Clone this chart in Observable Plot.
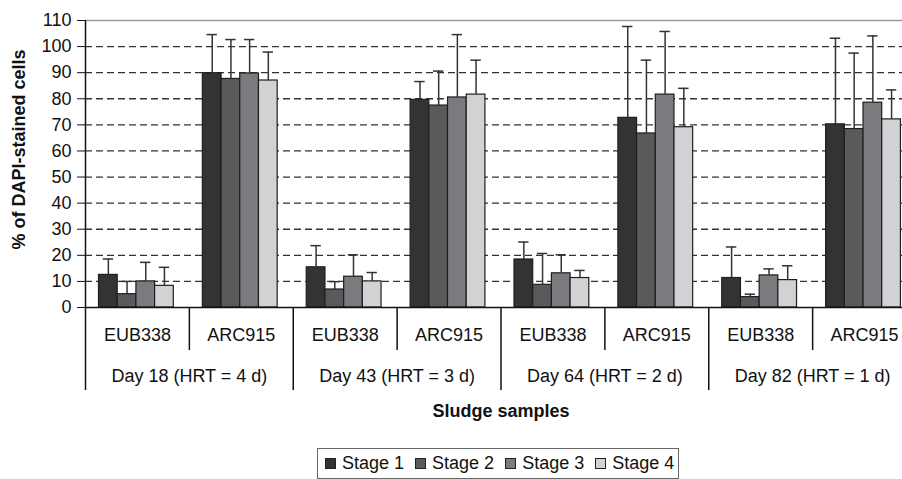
<!DOCTYPE html>
<html><head><meta charset="utf-8">
<script src="https://cdn.jsdelivr.net/npm/d3@7"></script>
<script src="https://cdn.jsdelivr.net/npm/@observablehq/plot@0.6"></script>
<style>
body{margin:0;background:#fff;font-family:'Liberation Sans',Arial,sans-serif}
#wrap{position:relative;width:902px;height:479px;overflow:hidden}
#legend{position:absolute;left:317px;top:448px;width:362px;height:31px;border:1.5px solid #666;box-sizing:border-box;display:flex;align-items:center;padding-left:7px;font-size:18px;color:#111;background:#fff}
.item{display:flex;align-items:center;margin-right:11px;white-space:nowrap}
.sw{width:11px;height:11px;border:1px solid #222;box-sizing:border-box;margin-right:6px}
</style></head><body><div id="wrap"><div id="legend"></div></div>
<script>
// ---- data ----
const days = ["Day 18 (HRT = 4 d)", "Day 43 (HRT = 3 d)", "Day 64 (HRT = 2 d)", "Day 82 (HRT = 1 d)"];
const probes = ["EUB338", "ARC915"];
const stages = ["Stage 1", "Stage 2", "Stage 3", "Stage 4"];
const yTicks = [0, 10, 20, 30, 40, 50, 60, 70, 80, 90, 100, 110];
// order: D18 EUB, D18 ARC, D43 EUB, D43 ARC, D64 EUB, D64 ARC, D82 EUB, D82 ARC
const stage1 = [12.5, 89.8, 15.4, 79.6, 18.4, 72.7, 11.3, 70.2];
const stage2 = [5.1, 87.6, 6.9, 77.4, 8.7, 66.7, 4.0, 68.4];
const stage3 = [10.0, 89.7, 11.8, 80.5, 13.1, 81.6, 12.3, 78.5];
const stage4 = [8.3, 87.0, 10.0, 81.6, 11.3, 69.1, 10.5, 72.1];
const err1 = [6.1, 14.8, 8.3, 7.0, 6.7, 35.0, 11.9, 33.0];
const err2 = [4.9, 15.1, 3.0, 13.2, 12.0, 28.1, 1.1, 29.1];
const err3 = [7.3, 13.0, 8.4, 24.1, 7.1, 24.2, 2.5, 25.6];
const err4 = [7.1, 10.9, 3.4, 13.2, 2.9, 14.9, 5.5, 11.3];

// ---- styles / layout ----
const colors = ["#333333", "#5a5a5c", "#7a7b7e", "#d1d2d4"];
const OFF = 0.13, BW = 0.18, CAP = 0.05;
const SHORT = -16.5, LONG = -31.8;

const values = [stage1, stage2, stage3, stage4];
const errs = [err1, err2, err3, err4];
const cats = d3.range(8).map(c => ({c, day: days[Math.floor(c / 2)], probe: probes[c % 2]}));
const data = [];
for (const {c, day, probe} of cats) {
  stages.forEach((stage, s) => {
    const x1 = c + OFF + BW * s;
    data.push({c, day, probe, stage, value: values[s][c], err: errs[s][c], x1, x2: x1 + BW, xc: x1 + BW / 2});
  });
}
const dayRows = days.map((day, d) => ({day, d}));
const bounds = d3.range(0, 9).map(b => ({b}));

const chart = Plot.plot({
  width: 902, height: 479,
  marginLeft: 85, marginRight: -14, marginTop: 20, marginBottom: 172,
  style: {fontFamily: "'Liberation Sans', Arial, sans-serif", fontSize: "18px", color: "#111", background: "#fff"},
  x: {domain: [0, 8], axis: null},
  y: {domain: [0, 110], ticks: yTicks, tickSize: 8, tickPadding: 6, label: null},
  color: {domain: stages, range: colors},
  marks: [
    Plot.ruleY(yTicks.filter(t => t > 0 && t < 110), {stroke: "#333", strokeWidth: 1.3, strokeDasharray: "7,4"}),
    Plot.ruleY([110], {stroke: "#999", strokeWidth: 1.5}),
    Plot.rect(data, {x1: "x1", x2: "x2", y1: 0, y2: "value", fill: "stage", stroke: "#1e1e1e", strokeWidth: 1.2}),
    Plot.ruleX(data, {x: "xc", y1: "value", y2: d => d.value + d.err, stroke: "#333", strokeWidth: 1.5}),
    Plot.ruleY(data, {y: d => d.value + d.err, x1: d => d.xc - CAP, x2: d => d.xc + CAP, stroke: "#333", strokeWidth: 1.5}),
    Plot.ruleY([0], {stroke: "#111", strokeWidth: 1.5}),
    Plot.ruleX(bounds, {x: "b", y1: d => d.b === 0 ? 110 : 0, y2: d => d.b % 2 === 0 ? LONG : SHORT, stroke: "#111", strokeWidth: 1.5}),
    Plot.text(cats, {x: d => d.c + 0.5, y: 0, dy: 28, text: "probe", fontSize: 18, fill: "#111"}),
    Plot.text(dayRows, {x: d => 2 * d.d + 1, y: 0, dy: 68.5, text: "day", fontSize: 18, fill: "#111"}),
    Plot.text(["Sludge samples"], {x: 4, y: 0, dy: 103.5, text: d => d, fontSize: 18, fontWeight: "bold", fill: "#111"}),
    Plot.text(["% of DAPI-stained cells"], {x: 0, y: 60.6, dx: -66.5, rotate: -90, text: d => d, fontSize: 18, fontWeight: "bold", fill: "#111"})
  ]
});
document.getElementById("wrap").prepend(chart);

const legend = document.getElementById("legend");
stages.forEach((s, i) => {
  const item = document.createElement("div");
  item.className = "item";
  const sw = document.createElement("span");
  sw.className = "sw";
  sw.style.background = colors[i];
  const t = document.createElement("span");
  t.textContent = s;
  item.append(sw, t);
  legend.append(item);
});
</script>
</body></html>
